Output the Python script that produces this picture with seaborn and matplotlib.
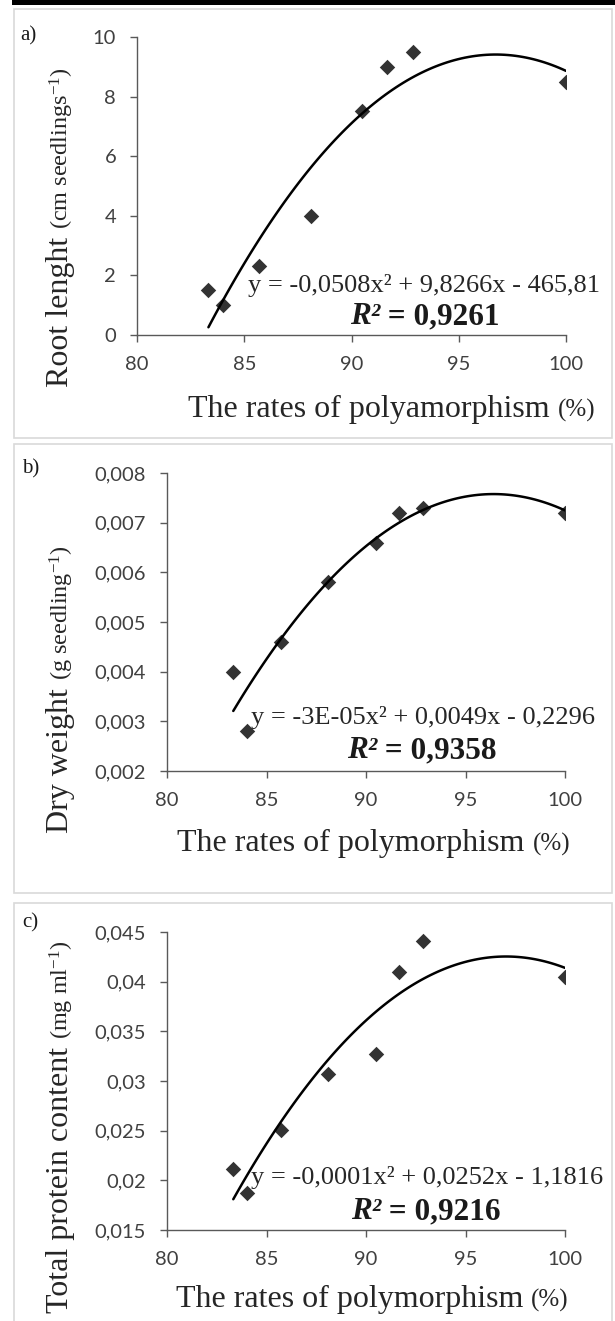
import numpy as np
import pandas as pd
import seaborn as sns
import matplotlib.pyplot as plt
from matplotlib.patches import Rectangle

sns.set_style("white")
plt.rcParams['font.family'] = ['Lato', 'DejaVu Sans']
plt.rcParams['mathtext.fontset'] = 'custom'
plt.rcParams['mathtext.rm'] = 'Liberation Serif'
plt.rcParams['mathtext.it'] = 'Liberation Serif:italic'
plt.rcParams['mathtext.bf'] = 'Liberation Serif:bold'

# data
rates = [83.33, 84.0, 85.71, 88.1, 90.48, 91.67, 92.86, 100.0]
root_length = [1.5, 1.0, 2.3, 4.0, 7.5, 9.0, 9.5, 8.5]
dry_weight = [0.0040, 0.0028, 0.0046, 0.0058, 0.0066, 0.0072, 0.0073, 0.0072]
protein = [0.0211, 0.0187, 0.0251, 0.0307, 0.0327, 0.0410, 0.0441, 0.0405]

x_ticks = [80, 85, 90, 95, 100]
x_ticklabels = ['80', '85', '90', '95', '100']
a_ticks = [0, 2, 4, 6, 8, 10]
a_ticklabels = ['0', '2', '4', '6', '8', '10']
b_ticks = [0.002, 0.003, 0.004, 0.005, 0.006, 0.007, 0.008]
b_ticklabels = ['0,002', '0,003', '0,004', '0,005', '0,006', '0,007', '0,008']
c_ticks = [0.015, 0.02, 0.025, 0.03, 0.035, 0.04, 0.045]
c_ticklabels = ['0,015', '0,02', '0,025', '0,03', '0,035', '0,04', '0,045']

equations = ['y = -0,0508x² + 9,8266x - 465,81',
             'y = -3E-05x² + 0,0049x - 0,2296',
             'y = -0,0001x² + 0,0252x - 1,1816']
r2_values = ['0,9261', '0,9358', '0,9216']
panel_tags = ['a)', 'b)', 'c)']
ylabels = [('Root lenght ', '(cm seedlings$^{-1}$)'),
           ('Dry weight ', '(g seedling$^{-1}$)'),
           ('Total protein content ', '(mg ml$^{-1}$)')]
xlabels = ['The rates of polyamorphism ', 'The rates of polymorphism ', 'The rates of polymorphism ']

W, H = 615, 1321
fig = plt.figure(figsize=(W / 100, H / 100), dpi=100)
serif = 'Liberation Serif'


def fx(x):
    return x / W


def fy(y):
    return 1 - y / H


def chain_text(parts, x, y, rotation=0, color='#262626'):
    # draw text pieces of different sizes one after another on one baseline
    renderer = fig.canvas.get_renderer()
    px, py = x, H - y
    for txt, size in parts:
        t = fig.text(px / W, py / H, txt, fontsize=size, family=serif, color=color,
                     rotation=rotation, rotation_mode='anchor', ha='left', va='baseline')
        bb = t.get_window_extent(renderer)
        if rotation == 90:
            py = bb.y1
        else:
            px = bb.x1


# panel frames and top bar
fig.patches.append(Rectangle((fx(12), fy(5)), fx(603), 5 / H, transform=fig.transFigure,
                             facecolor='black', edgecolor='none'))
for top, bot in [(9, 438), (444, 893), (903, 1330)]:
    fig.patches.append(Rectangle((fx(14), fy(bot)), fx(598), (bot - top) / H,
                                 transform=fig.transFigure, facecolor='none',
                                 edgecolor='#d9d9d9', lw=1.2))

# axes boxes in pixels: left, right, top, bottom
boxes = [(137, 566, 37, 335), (167, 565, 473, 771), (167, 565, 932, 1230)]
series = [root_length, dry_weight, protein]
ylims = [(0, 10), (0.002, 0.008), (0.015, 0.045)]
yticks = [(a_ticks, a_ticklabels), (b_ticks, b_ticklabels), (c_ticks, c_ticklabels)]

eq_pos = [(248, 292), (251, 724), (251, 1184)]
r2_pos = [(350, 324), (347, 758), (351, 1219)]
tag_pos = [(20, 40), (22, 473), (22, 927)]
ylab_pos = [(68, 387), (68, 833), (68, 1313)]
xlab_pos = [(188, 417), (177, 851), (176, 1307)]

for i in range(3):
    l, r, t, b = boxes[i]
    ax = fig.add_axes([fx(l), fy(b), (r - l) / W, (b - t) / H])
    df = pd.DataFrame({'rate': rates, 'val': series[i]})
    sns.regplot(x='rate', y='val', data=df, order=2, ci=None, ax=ax, color='black',
                marker='D', scatter_kws={'s': 62, 'linewidths': 0, 'zorder': 3},
                line_kws={'lw': 1.8})
    ax.set_xlim(80, 100)
    ax.set_ylim(*ylims[i])
    ax.set_xticks(x_ticks)
    ax.set_xticklabels(x_ticklabels)
    ax.set_yticks(yticks[i][0])
    ax.set_yticklabels(yticks[i][1])
    ax.set_xlabel('')
    ax.set_ylabel('')
    for s in ['top', 'right']:
        ax.spines[s].set_visible(False)
    for s in ['left', 'bottom']:
        ax.spines[s].set_color('#595959')
        ax.spines[s].set_linewidth(1.0)
    ax.tick_params(axis='both', direction='out', length=5, width=1.0, color='#595959',
                   labelsize=14.5, labelcolor='#404040', pad=10, left=True, bottom=True)
    ax.patch.set_alpha(0)
    for sp in ax.spines.values():
        sp.set_clip_on(False)

    ex, ey = eq_pos[i]
    fig.text(fx(ex), fy(ey), equations[i], family=serif, fontsize=19, color='#262626',
             ha='left', va='baseline')
    rx, ry = r2_pos[i]
    tr = fig.text(fx(rx), fy(ry), 'R²', family=serif, fontsize=22.5, fontweight='bold',
                  fontstyle='italic', color='#1a1a1a', ha='left', va='baseline')
    fig.canvas.draw()
    bb = tr.get_window_extent(fig.canvas.get_renderer())
    fig.text(bb.x1 / W, fy(ry), ' = ' + r2_values[i], family=serif, fontsize=22.5,
             fontweight='bold', color='#1a1a1a', ha='left', va='baseline')

    gx, gy = tag_pos[i]
    fig.text(fx(gx), fy(gy), panel_tags[i], family=serif, fontsize=15, color='#1a1a1a',
             ha='left', va='baseline')

    chain_text([(ylabels[i][0], 23), (ylabels[i][1], 17.5)], *ylab_pos[i], rotation=90)
    chain_text([(xlabels[i], 23), ('(%)', 18)], *xlab_pos[i])

fig.savefig('out.png', dpi=100, facecolor='white')
